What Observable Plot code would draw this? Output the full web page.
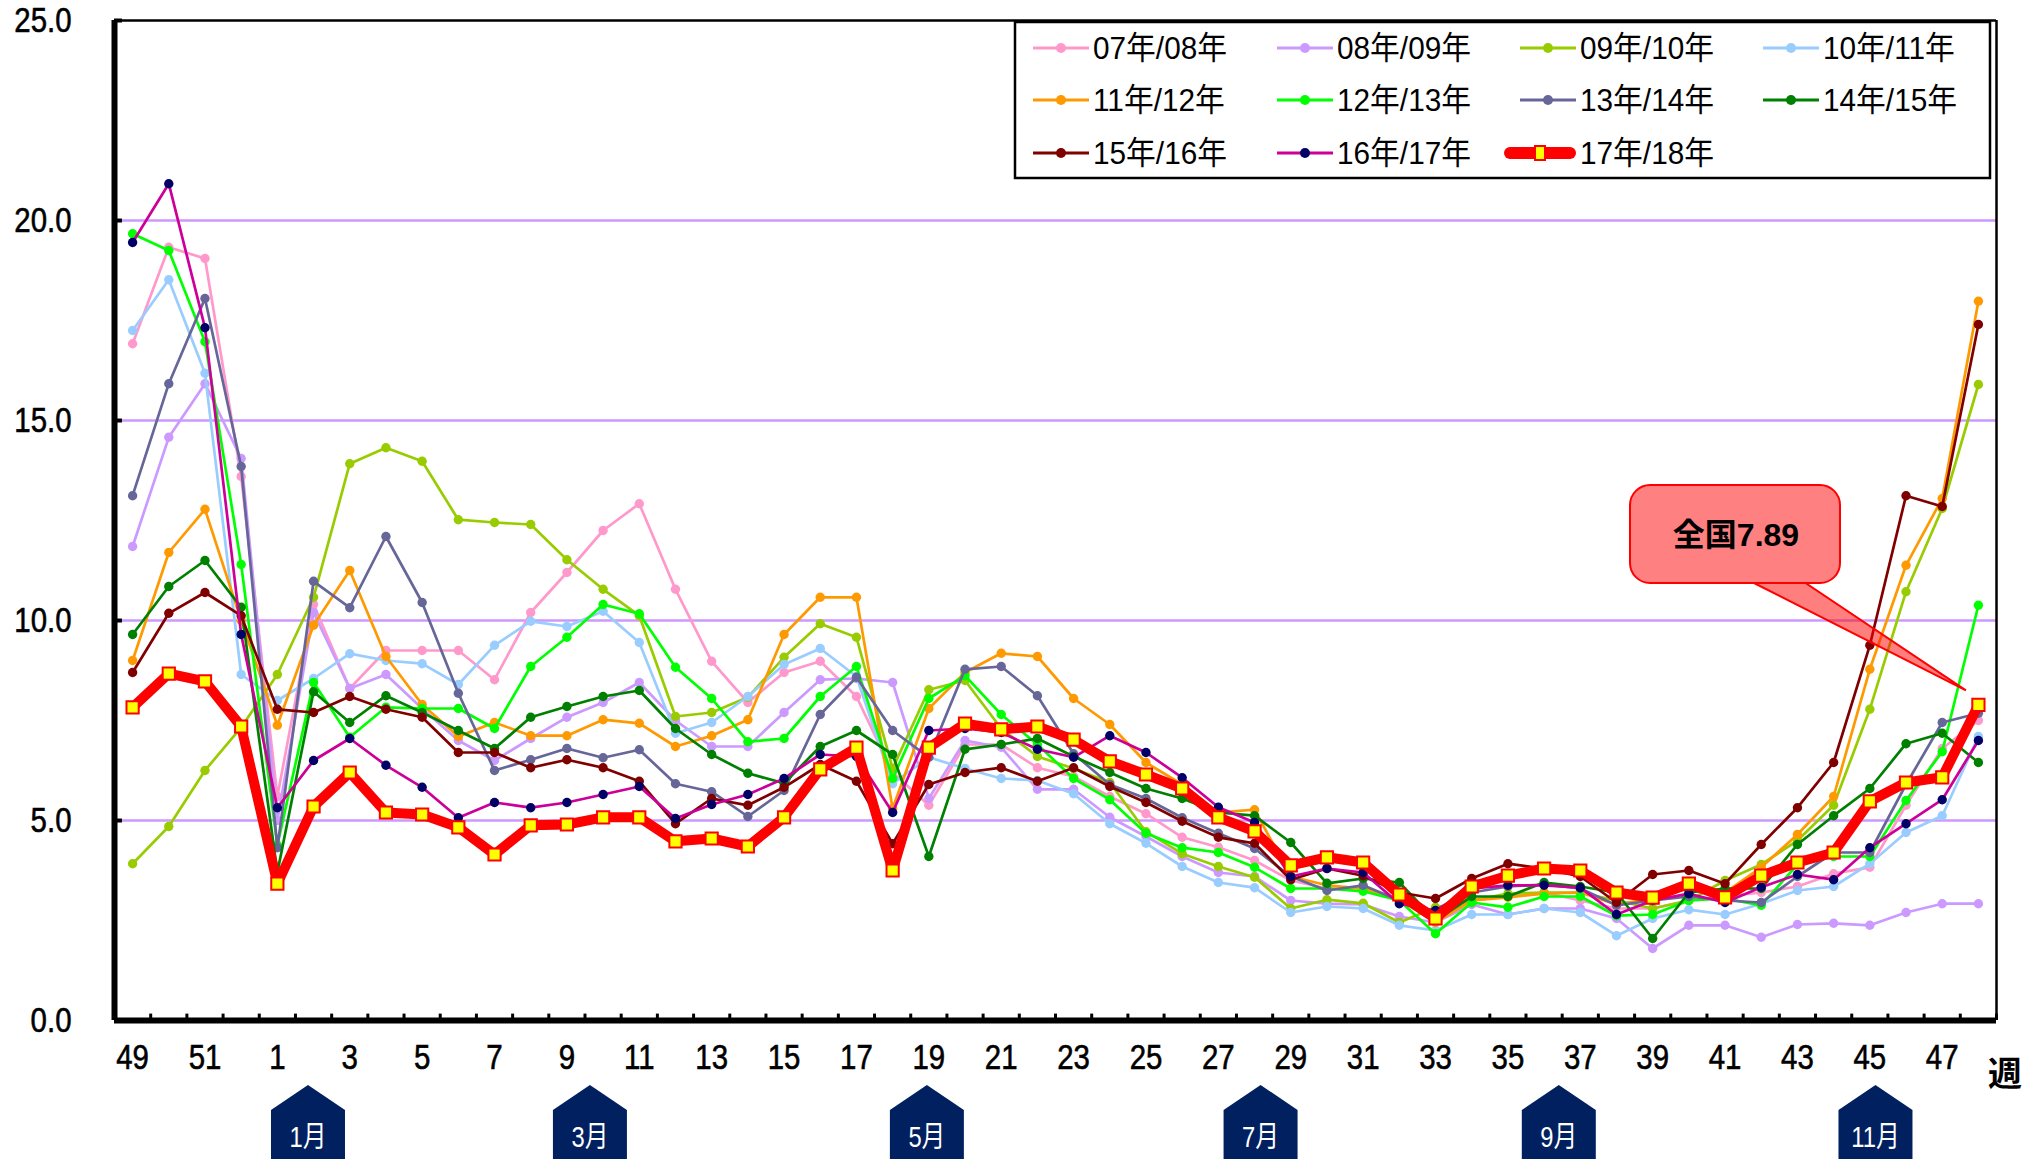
<!DOCTYPE html>
<html><head><meta charset="utf-8">
<script src="https://cdn.jsdelivr.net/npm/d3@7"></script>
<script src="https://cdn.jsdelivr.net/npm/@observablehq/plot@0.6"></script>
<style>
html,body{margin:0;padding:0;background:#fff;}
#chart{width:2042px;height:1159px;overflow:hidden;}
</style></head>
<body><div id="chart"></div>
<script>
const weeks = [49,50,51,52,1,2,3,4,5,6,7,8,9,10,11,12,13,14,15,16,17,18,19,20,21,22,23,24,25,26,27,28,29,30,31,32,33,34,35,36,37,38,39,40,41,42,43,44,45,46,47,48];
const yTicks = [0,5,10,15,20,25];
const seriesNames = ["07年/08年","08年/09年","09年/10年","10年/11年","11年/12年","12年/13年","13年/14年","14年/15年","15年/16年","16年/17年","17年/18年"];
const lineColors = ["#ff99cc","#cc99ff","#99cc00","#99ccff","#ff9900","#00ff00","#666699","#008000","#800000","#cc0099","#ff0000"];
const markerColors = ["#ff99cc","#cc99ff","#99cc00","#99ccff","#ff9900","#00ff00","#666699","#008000","#800000","#000066","#ffff00"];

const s0708 = [16.92,19.33,19.05,13.6,5.6,10.4,8.3,9.25,9.25,9.25,8.52,10.2,11.2,12.25,12.92,10.78,8.98,7.95,8.7,8.98,8.1,6.2,5.38,6.9,6.9,6.32,6.1,5.6,5.17,4.58,4.33,4.0,3.5,3.3,3.3,3.0,2.5,3.0,3.1,3.2,3.0,2.8,2.8,3.0,3.1,3.2,3.35,3.67,3.83,5.38,6.8,7.5];
const s0809 = [11.85,14.58,15.92,14.05,5.0,10.2,8.3,8.65,7.8,7.0,6.5,7.05,7.58,7.95,8.45,7.5,6.85,6.85,7.7,8.52,8.55,8.45,5.55,7.0,6.83,5.78,5.78,5.08,4.6,4.1,3.7,3.6,3.0,2.92,2.9,2.6,2.45,2.9,2.65,2.8,2.8,2.55,1.8,2.38,2.38,2.08,2.4,2.43,2.38,2.7,2.92,2.92];
const s0910 = [3.92,4.85,6.25,7.33,8.65,10.58,13.92,14.32,13.98,12.52,12.45,12.4,11.52,10.78,10.12,7.6,7.7,8.08,9.08,9.92,9.58,6.3,8.27,8.5,7.3,6.6,6.3,5.95,4.72,4.17,3.85,3.58,2.8,3.02,2.93,2.45,2.83,3.0,3.17,3.2,3.2,3.0,2.8,3.0,3.5,3.9,4.5,5.38,7.78,10.72,12.8,15.9];
const s1011 = [17.25,18.52,16.18,8.65,8.0,8.55,9.17,9.0,8.92,8.4,9.38,9.98,9.85,10.23,9.45,7.18,7.45,8.1,8.9,9.3,8.6,5.92,6.58,6.3,6.05,6.0,5.67,4.92,4.43,3.85,3.45,3.32,2.7,2.85,2.8,2.38,2.25,2.65,2.65,2.8,2.7,2.12,2.55,2.77,2.65,2.92,3.25,3.35,3.92,4.7,5.12,7.1];
const s1112 = [9.0,11.7,12.78,10.0,7.38,9.88,11.25,9.1,7.9,7.1,7.45,7.12,7.12,7.52,7.43,6.85,7.12,7.52,9.65,10.58,10.58,5.3,7.8,8.7,9.18,9.1,8.05,7.4,6.45,5.9,5.2,5.27,3.6,3.38,3.3,3.05,2.45,3.0,3.08,3.17,3.2,2.9,3.05,3.3,3.2,3.83,4.65,5.6,8.78,11.38,13.05,17.98];
const s1213 = [19.67,19.25,16.97,11.4,4.38,8.45,7.08,7.83,7.8,7.8,7.3,8.85,9.58,10.4,10.17,8.83,8.05,6.97,7.05,8.1,8.85,6.05,8.05,8.62,7.65,6.9,6.05,5.52,4.68,4.32,4.2,3.83,3.3,3.3,3.23,3.0,2.17,2.95,2.83,3.1,3.1,2.62,2.65,3.0,3.05,2.88,3.9,4.1,4.1,5.5,6.72,10.38];
const s1314 = [13.12,15.92,18.05,13.85,4.32,10.98,10.32,12.1,10.45,8.18,6.25,6.52,6.8,6.57,6.77,5.92,5.72,5.1,5.75,7.65,8.58,7.25,6.58,8.78,8.85,8.12,6.67,5.9,5.55,5.07,4.68,4.3,3.6,3.25,3.38,3.0,2.6,3.2,3.35,3.4,3.3,2.88,3.0,3.1,3.0,2.95,3.6,4.2,4.2,5.9,7.45,7.68];
const s1415 = [9.65,10.85,11.5,10.33,3.7,8.22,7.45,8.12,7.7,7.25,6.8,7.58,7.85,8.1,8.25,7.3,6.65,6.18,5.93,6.85,7.25,6.65,4.1,6.78,6.9,7.05,6.6,6.2,5.8,5.55,5.2,5.12,4.45,3.43,3.55,3.45,2.5,3.1,3.1,3.45,3.35,3.2,2.05,3.2,3.3,3.3,4.4,5.12,5.8,6.92,7.18,6.45];
const s1516 = [8.7,10.18,10.7,10.12,7.78,7.7,8.1,7.78,7.58,6.7,6.7,6.32,6.52,6.32,5.98,4.92,5.55,5.38,5.83,6.4,5.98,4.42,5.9,6.2,6.32,5.98,6.32,5.85,5.45,4.98,4.58,4.43,3.52,3.8,3.62,3.2,3.05,3.55,3.92,3.8,3.6,2.95,3.65,3.75,3.42,4.4,5.32,6.45,9.38,13.12,12.85,17.4];
const s1617 = [19.45,20.92,17.32,9.65,5.32,6.5,7.05,6.38,5.83,5.07,5.45,5.32,5.45,5.65,5.85,5.05,5.4,5.65,6.05,6.65,6.6,5.2,7.25,7.3,7.2,6.78,6.58,7.12,6.7,6.07,5.33,4.95,3.6,3.8,3.7,2.92,2.75,3.3,3.38,3.38,3.32,2.65,3.0,3.17,2.95,3.33,3.65,3.52,4.32,4.92,5.52,7.0];
const s1718 = [7.83,8.67,8.48,7.35,3.42,5.35,6.2,5.2,5.15,4.83,4.15,4.88,4.9,5.08,5.08,4.48,4.55,4.35,5.08,6.28,6.82,3.75,6.82,7.42,7.28,7.35,7.02,6.48,6.15,5.8,5.08,4.73,3.88,4.08,3.95,3.15,2.55,3.35,3.62,3.8,3.75,3.2,3.07,3.42,3.08,3.62,3.95,4.2,5.48,5.95,6.08,7.89];
const monthLabels = ["1月","3月","5月","7月","9月","11月"];
const monthAt = [4.86,12.65,21.96,31.18,39.42,48.17]; // position on the week axis
const calloutText = "全国7.89";

const allSeries = [s0708,s0809,s0910,s1011,s1112,s1213,s1314,s1415,s1516,s1617,s1718];
const rows = allSeries.map((vals, k) => vals.map((v, i) => ({k, i, v})));

const F = "'Liberation Sans','Noto Sans CJK JP',sans-serif";
const boundaries = d3.range(-0.5, 52, 1);

const marks = [
  Plot.ruleY([5,10,15,20], {stroke:"#cc99ff", strokeWidth:2.5}),
  Plot.ruleY([25], {stroke:"#000", strokeWidth:2.5}),
  Plot.ruleX([51.5], {stroke:"#000", strokeWidth:2.5}),
  Plot.ruleX(boundaries, {x: d => d, y1: 0, y2: 0.16, stroke:"#000", strokeWidth:3})
];
for (let k = 0; k < 10; k++) {
  marks.push(Plot.line(rows[k], {x:"i", y:"v", stroke: lineColors[k], strokeWidth: 2.7}));
  marks.push(Plot.dot(rows[k], {x:"i", y:"v", fill: markerColors[k], r: 4.7, stroke:"none"}));
}
marks.push(Plot.line(rows[10], {x:"i", y:"v", stroke:"#ff0000", strokeWidth:10, strokeLinejoin:"round"}));
marks.push(Plot.dot(rows[10], {x:"i", y:"v", symbol:"square", r:6.9, fill:"#ffff00", stroke:"#ff0000", strokeWidth:2}));
marks.push(Plot.ruleY([0], {stroke:"#000", strokeWidth:6}));
marks.push(Plot.ruleX([-0.5], {stroke:"#000", strokeWidth:6}));
marks.push(Plot.ruleY(yTicks, {x1: -0.5, x2: -0.28, stroke:"#000", strokeWidth:4}));
marks.push(Plot.axisY({ticks: yTicks, tickFormat: d => d.toFixed(1), tickSize: 0, tickPadding: 43, label: null, fontSize: 35, fill:"#000"}));
marks.push(Plot.axisX({ticks: d3.range(0, 52, 2), tickFormat: i => weeks[i], tickSize: 0, tickPadding: 24, label: null, fontSize: 35, fill:"#000"}));

const plot = Plot.plot({
  width: 2042, height: 1159,
  marginLeft: 114, marginRight: 46, marginTop: 20, marginBottom: 139,
  x: {type:"linear", domain:[-0.5, 51.5], axis: null},
  y: {domain:[0, 25], axis: null},
  style: {background:"#fff", fontFamily: F, color:"#000", fontSize: "35px"},
  marks
});
document.getElementById("chart").appendChild(plot);

const X = plot.scale("x"), Y = plot.scale("y");
const svg = d3.select(plot);

function condense(sel, f) {
  sel.each(function() {
    const w = this.getComputedTextLength();
    if (w > 0) { this.setAttribute("textLength", (w * f).toFixed(1)); this.setAttribute("lengthAdjust", "spacingAndGlyphs"); }
  });
}
// all texts present now are the axis tick labels
const tickTexts = svg.selectAll("text");
tickTexts.attr("font-size", 35).attr("font-family", F).attr("fill", "#000")
  .attr("stroke", "#000").attr("stroke-width", 0.6);
condense(tickTexts, 0.84);

// month markers
const mg = svg.append("g");
monthLabels.forEach((lab, j) => {
  const cx = X.apply(monthAt[j]);
  const hw = 37;
  mg.append("path")
    .attr("d", `M${cx},1085 L${cx+hw},1110 L${cx+hw},1162 L${cx-hw},1162 L${cx-hw},1110 Z`)
    .attr("fill", "#002060");
  mg.append("text").attr("x", cx).attr("y", 1147).attr("text-anchor","middle")
    .attr("font-family", F).attr("font-size", 29).attr("fill","#fff").text(lab);
});
condense(mg.selectAll("text"), 0.82);
// 週
svg.append("text").attr("x", 2005).attr("y", 1086).attr("text-anchor","middle")
  .attr("font-family","'Noto Sans CJK JP',sans-serif").attr("font-weight","bold")
  .attr("font-size", 34).attr("fill","#000").text("週");

// legend
const lg = svg.append("g");
lg.append("rect").attr("x",1015).attr("y",22).attr("width",975).attr("height",156)
  .attr("fill","#fff").attr("stroke","#000").attr("stroke-width",2.5);
const colX = [1033, 1277, 1520, 1763], rowY = [48, 100, 153];
seriesNames.forEach((name, k) => {
  const x = colX[k % 4], y = rowY[Math.floor(k / 4)];
  if (k < 10) {
    lg.append("line").attr("x1",x).attr("x2",x+56).attr("y1",y).attr("y2",y)
      .attr("stroke", lineColors[k]).attr("stroke-width",3);
    lg.append("circle").attr("cx",x+28).attr("cy",y).attr("r",5).attr("fill",markerColors[k]);
  } else {
    lg.append("line").attr("x1",x-10).attr("x2",x+50).attr("y1",y).attr("y2",y)
      .attr("stroke","#ff0000").attr("stroke-width",12).attr("stroke-linecap","round");
    lg.append("rect").attr("x",x+15).attr("y",y-7).attr("width",10).attr("height",14)
      .attr("fill","#ffff00").attr("stroke","#ff0000").attr("stroke-width",2);
  }
  lg.append("text").attr("x", x+60).attr("y", y+11).attr("text-anchor","start").attr("font-family",F)
    .attr("font-size",32).attr("fill","#000").text(name);
});
condense(lg.selectAll("text"), 0.93);

// callout
const tipX = X.apply(51) - 12, tipY = Y.apply(s1718[51]) - 14;
const cg = svg.append("g");
cg.append("path").attr("d", `M1752,582 L${tipX},${tipY} L1804,582 Z`)
  .attr("fill","#ff0000").attr("fill-opacity",0.5).attr("stroke","#ff0000").attr("stroke-width",2);
cg.append("rect").attr("x",1630).attr("y",485).attr("width",210).attr("height",98).attr("rx",20)
  .attr("fill","#ff8080").attr("stroke","#ff0000").attr("stroke-width",2);
cg.append("text").attr("x",1736).attr("y",546).attr("text-anchor","middle")
  .attr("font-family","'Liberation Sans','Noto Sans CJK JP',sans-serif").attr("font-weight","bold")
  .attr("font-size",32).attr("fill","#000").text(calloutText);
</script></body></html>
